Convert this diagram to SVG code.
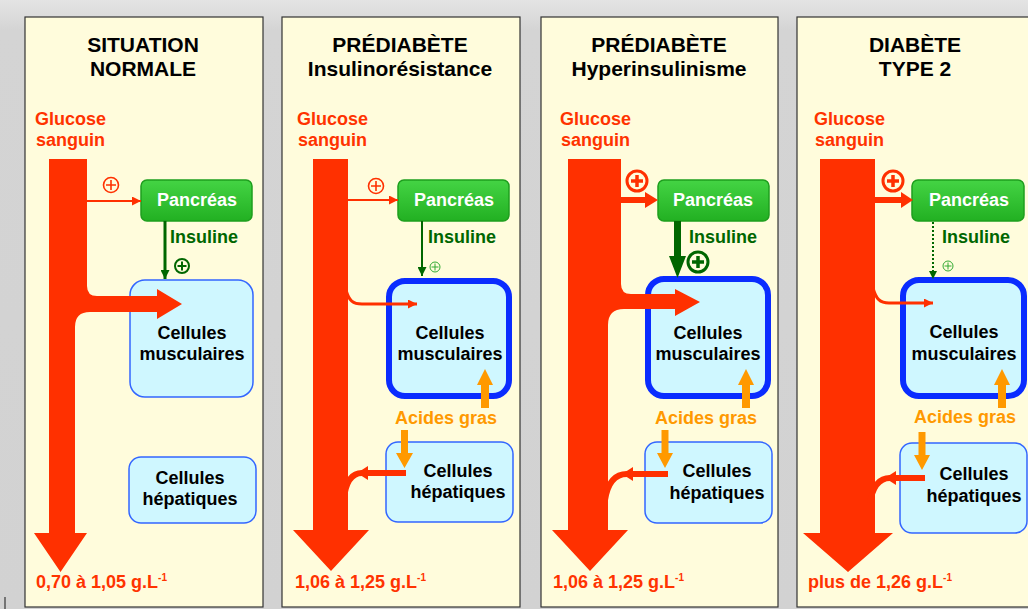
<svg xmlns="http://www.w3.org/2000/svg" width="1028" height="609" viewBox="0 0 1028 609">
<defs>
<linearGradient id="bg" x1="0" y1="0" x2="0" y2="1">
<stop offset="0" stop-color="#e4e4e4"/><stop offset="0.05" stop-color="#d4d4d4"/><stop offset="1" stop-color="#d2d2d2"/>
</linearGradient>
<linearGradient id="green" x1="0" y1="0" x2="0" y2="1">
<stop offset="0" stop-color="#44d444"/><stop offset="1" stop-color="#22b022"/>
</linearGradient>
<marker id="mRed" viewBox="0 0 10 10" refX="10" refY="5" markerWidth="9" markerHeight="9" markerUnits="userSpaceOnUse" orient="auto"><path d="M0,0 L10,5 L0,10 Z" fill="#ff3000"/></marker>
<marker id="mGreen" viewBox="0 0 10 10" refX="10" refY="5" markerWidth="9" markerHeight="9" markerUnits="userSpaceOnUse" orient="auto"><path d="M0,0 L10,5 L0,10 Z" fill="#006600"/></marker>
</defs>
<style>
.panel{fill:#fffcdc;stroke:#333;stroke-width:1.2}
.title{font-family:"Liberation Sans",Arial,sans-serif;font-weight:bold;font-size:21px;fill:#000;text-anchor:middle}
.rtext{font-family:"Liberation Sans",Arial,sans-serif;font-weight:bold;font-size:18px;fill:#ff3300}
.red{fill:#ff3000}
.rline{fill:none;stroke:#ff3000}
.panc{fill:url(#green);stroke:#1e9e1e;stroke-width:1.5}
.ptext{font-family:"Liberation Sans",Arial,sans-serif;font-weight:bold;font-size:18px;fill:#fff;text-anchor:middle}
.ins{font-family:"Liberation Sans",Arial,sans-serif;font-weight:bold;font-size:18px;fill:#006600}
.gline{fill:none;stroke:#006600}
.cell{fill:#cff7ff;stroke:#3366ff;stroke-width:1.5}
.cellR{fill:#cff7ff;stroke:#0a2cff;stroke-width:6}
.ctext{font-family:"Liberation Sans",Arial,sans-serif;font-weight:bold;font-size:18px;fill:#000;text-anchor:middle}
.otext{font-family:"Liberation Sans",Arial,sans-serif;font-weight:bold;font-size:18px;fill:#ff9900}
.orange{fill:#ff9900}
.pr{fill:none;stroke:#ff3000}
.pg{fill:none;stroke:#006600}
.pgl{fill:none;stroke:#33aa33;stroke-width:1}
.sup{font-size:10px}
</style>
<rect x="0" y="0" width="1028" height="609" fill="url(#bg)"/>
<line x1="5" y1="597" x2="5" y2="609" stroke="#555" stroke-width="1.5"/>

<!-- panels -->
<g id="panel1"><rect class="panel" x="25" y="17" width="238" height="590"/></g>
<g id="panel2"><rect class="panel" x="282" y="17" width="238" height="590"/></g>
<g id="panel3"><rect class="panel" x="541" y="17" width="237" height="590"/></g>
<g id="panel4"><rect class="panel" x="797" y="17" width="240" height="590"/></g>

<!-- titles and labels -->
<g id="titles">
<text class="title" x="143" y="52">SITUATION</text>
<text class="title" x="143" y="76">NORMALE</text>
<text class="title" x="400" y="52">PRÉDIABÈTE</text>
<text class="title" x="400" y="76">Insulinorésistance</text>
<text class="title" x="659" y="52">PRÉDIABÈTE</text>
<text class="title" x="659" y="76">Hyperinsulinisme</text>
<text class="title" x="915" y="52">DIABÈTE</text>
<text class="title" x="915" y="76">TYPE 2</text>
</g>
<g id="glucose-labels">
<text class="rtext" x="35" y="125">Glucose</text><text class="rtext" x="36" y="146">sanguin</text>
<text class="rtext" x="297" y="125">Glucose</text><text class="rtext" x="298" y="146">sanguin</text>
<text class="rtext" x="560" y="125">Glucose</text><text class="rtext" x="561" y="146">sanguin</text>
<text class="rtext" x="814" y="125">Glucose</text><text class="rtext" x="815" y="146">sanguin</text>
</g>
<g id="values">
<text class="rtext" x="36" y="588">0,70 à 1,05 g.L<tspan class="sup" dy="-7">-1</tspan></text>
<text class="rtext" x="295" y="588">1,06 à 1,25 g.L<tspan class="sup" dy="-7">-1</tspan></text>
<text class="rtext" x="553" y="588">1,06 à 1,25 g.L<tspan class="sup" dy="-7">-1</tspan></text>
<text class="rtext" x="808" y="588">plus de 1,26 g.L<tspan class="sup" dy="-7">-1</tspan></text>
</g>

<!-- nodes -->
<g id="pancreas1"><rect class="panc" x="141" y="180" width="111" height="41" rx="6"/><text class="ptext" x="197" y="206">Pancréas</text></g>
<g id="pancreas2"><rect class="panc" x="398" y="180" width="111" height="41" rx="6"/><text class="ptext" x="454" y="206">Pancréas</text></g>
<g id="pancreas3"><rect class="panc" x="658" y="180" width="111" height="41" rx="6"/><text class="ptext" x="713" y="206">Pancréas</text></g>
<g id="pancreas4"><rect class="panc" x="912" y="180" width="112" height="41" rx="6"/><text class="ptext" x="969" y="206">Pancréas</text></g>

<g id="muscle1"><rect class="cell" x="130" y="280" width="123" height="117" rx="15"/><text class="ctext" x="192" y="339">Cellules</text><text class="ctext" x="192" y="360">musculaires</text></g>
<g id="muscle2"><rect class="cellR" x="389" y="281" width="120" height="115" rx="16"/><text class="ctext" x="450" y="339">Cellules</text><text class="ctext" x="450" y="360">musculaires</text></g>
<g id="muscle3"><rect class="cellR" x="648" y="279" width="120" height="117" rx="16"/><text class="ctext" x="708" y="339">Cellules</text><text class="ctext" x="708" y="360">musculaires</text></g>
<g id="muscle4"><rect class="cellR" x="903" y="280" width="121" height="116" rx="16"/><text class="ctext" x="964" y="338">Cellules</text><text class="ctext" x="964" y="360">musculaires</text></g>

<g id="liver1"><rect class="cell" x="129" y="457" width="127" height="66" rx="12"/><text class="ctext" x="190" y="484">Cellules</text><text class="ctext" x="190" y="505">hépatiques</text></g>
<g id="liver2"><rect class="cell" x="386" y="442" width="127" height="80" rx="12"/><text class="ctext" x="458" y="477">Cellules</text><text class="ctext" x="458" y="498">hépatiques</text></g>
<g id="liver3"><rect class="cell" x="645" y="442" width="127" height="81" rx="12"/><text class="ctext" x="717" y="477">Cellules</text><text class="ctext" x="717" y="499">hépatiques</text></g>
<g id="liver4"><rect class="cell" x="900" y="443" width="127" height="90" rx="12"/><text class="ctext" x="974" y="480">Cellules</text><text class="ctext" x="974" y="502">hépatiques</text></g>

<g id="insuline-labels">
<text class="ins" x="170" y="243">Insuline</text>
<text class="ins" x="428" y="243">Insuline</text>
<text class="ins" x="689" y="243">Insuline</text>
<text class="ins" x="942" y="243">Insuline</text>
</g>
<g id="acides-labels">
<text class="otext" x="395" y="424">Acides gras</text>
<text class="otext" x="655" y="424">Acides gras</text>
<text class="otext" x="914" y="423">Acides gras</text>
</g>

<!-- connectors -->
<g id="connectors">
<!-- glucose shafts -->
<path class="red" d="M49,159 H87 V286 Q87,296 97,296 H157 V289 L182,304 L157,319 V312 H90 Q75,312 75,327 V533 H87 L60.5,572 L34,533 H49 Z"/>
<path class="red" d="M313,159 H348 V530 H369 L331,571 L293,530 H313 Z"/>
<path class="red" d="M568,159 H621 V284 Q621,294 631,294 H675 V289 L700,302 L675,316 V309 H624 Q608,309 608,325 V530 H628 L590,571 L552,530 H568 Z"/>
<path class="red" d="M820,159 H875 V533 H893 L848,572 L803,533 H820 Z"/>

<!-- glucose to pancreas -->
<line class="rline" x1="87" y1="201" x2="141" y2="201" stroke-width="2" marker-end="url(#mRed)"/>
<line class="rline" x1="348" y1="200" x2="398" y2="200" stroke-width="2" marker-end="url(#mRed)"/>
<path class="red" d="M621,197 H645 V192 L658,200 L645,208 V203 H621 Z"/>
<path class="red" d="M875,197 H901 V192 L913,200 L901,208 V203 H875 Z"/>

<!-- thin glucose to muscle -->
<path class="rline" stroke-width="3" d="M346,290 C349,301 353,304 362,304 H417" marker-end="url(#mRed)"/>
<path class="rline" stroke-width="3" d="M873,288 C876,299 880,303 889,303 H933" marker-end="url(#mRed)"/>

<!-- insuline -->
<line class="gline" x1="165" y1="221" x2="165" y2="279" stroke-width="3" marker-end="url(#mGreen)"/>
<line class="gline" x1="422" y1="221" x2="422" y2="276" stroke-width="2" marker-end="url(#mGreen)"/>
<path fill="#006600" d="M674,221 H681 V256 H686 L677.5,278 L669,256 H674 Z"/>
<line class="gline" x1="933" y1="222" x2="933" y2="271" stroke-width="2" stroke-dasharray="2,2"/>
<path fill="#006600" d="M929,271 H937 L933,279 Z"/>

<!-- liver to blood -->
<path class="rline" stroke-width="6" d="M406,473 H362 Q347,473 344,498"/>
<path class="red" d="M357,473 L368,466 L368,480 Z"/>
<path class="rline" stroke-width="6" d="M668,474 H627 Q609,474 605,500"/>
<path class="red" d="M622,474 L633,467 L633,481 Z"/>
<path class="rline" stroke-width="6" d="M925,478 H890 Q874,478 870,503"/>
<path class="red" d="M885,478 L896,471 L896,485 Z"/>

<!-- fatty acids -->
<path class="orange" d="M481,408 V385 H477 L485,369 L493,385 H489 V408 Z"/>
<path class="orange" d="M401,430 H408 V453 H413 L404.5,468 L396,453 H401 Z"/>
<path class="orange" d="M742,408 V385 H738 L746,369 L754,385 H750 V408 Z"/>
<path class="orange" d="M661.5,430 H668.5 V453 H673 L665,468 L657,453 H661.5 Z"/>
<path class="orange" d="M998,408 V385 H994 L1002,369 L1010,385 H1006 V408 Z"/>
<path class="orange" d="M918.5,432 H925.5 V455 H930 L922,470 L914,455 H918.5 Z"/>
</g>

<!-- plus signs -->
<g id="plus-signs">
<circle class="pr" cx="111" cy="185" r="7.5" stroke-width="1.6"/><path class="pr" stroke-width="1.6" d="M106,185 H116 M111,180 V190"/>
<circle class="pr" cx="376" cy="186" r="7.5" stroke-width="1.6"/><path class="pr" stroke-width="1.6" d="M371,186 H381 M376,181 V191"/>
<circle class="pr" cx="637" cy="181" r="10" stroke-width="3"/><path class="pr" stroke-width="3.5" d="M631,181 H643 M637,175 V187"/>
<circle class="pr" cx="893" cy="181" r="10" stroke-width="3"/><path class="pr" stroke-width="3.5" d="M887,181 H899 M893,175 V187"/>
<circle class="pg" cx="182" cy="266" r="7" stroke-width="2"/><path class="pg" stroke-width="2" d="M177.5,266 H186.5 M182,261.5 V270.5"/>
<circle class="pgl" cx="435" cy="267" r="5"/><path class="pgl" d="M431.5,267 H438.5 M435,263.5 V270.5"/>
<circle class="pg" cx="698" cy="262" r="10" stroke-width="3"/><path class="pg" stroke-width="3.5" d="M692,262 H704 M698,256 V268"/>
<circle class="pgl" cx="948" cy="266" r="5"/><path class="pgl" d="M944.5,266 H951.5 M948,262.5 V269.5"/>
</g>
</svg>
